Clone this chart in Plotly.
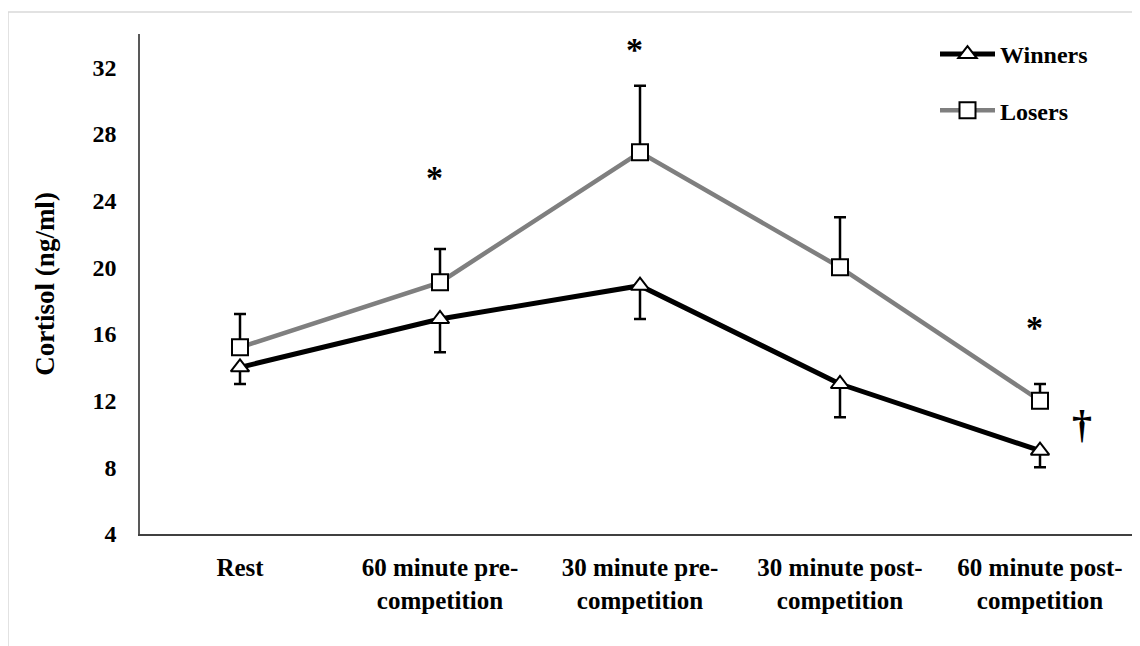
import plotly.graph_objects as go

categories = ["Rest", "60 minute pre-<br>competition", "30 minute pre-<br>competition",
              "30 minute post-<br>competition", "60 minute post-<br>competition"]
winners = [14.0, 16.9, 18.9, 13.0, 9.0]
winners_err = [1.0, 2.0, 2.0, 2.0, 1.0]
losers = [15.2, 19.1, 26.9, 20.0, 12.0]
losers_err = [2.0, 2.0, 4.0, 3.0, 1.0]
y_ticks = [4, 8, 12, 16, 20, 24, 28, 32]
# significance markers: (category index, value)
asterisks = [(1, 25.5), (2, 33.2), (4, 16.5)]
dagger = (4, 10.6)

FONT = "Liberation Serif, Times New Roman, serif"

fig = go.Figure()
fig.add_trace(go.Scatter(
    x=categories, y=winners, name="Winners", legendgroup="w",
    mode="lines+markers",
    line=dict(color="#000000", width=5),
    marker=dict(symbol="triangle-up", size=16, color="white",
                line=dict(color="#000000", width=2)),
    error_y=dict(type="data", symmetric=False, array=[0] * len(winners),
                 arrayminus=winners_err, color="#000000", thickness=2.5, width=6),
))
fig.add_trace(go.Scatter(
    x=categories, y=losers, name="Losers", legendgroup="l",
    mode="lines+markers",
    line=dict(color="#7f7f7f", width=4.5),
    marker=dict(symbol="square", size=16, color="white",
                line=dict(color="#000000", width=2)),
    error_y=dict(type="data", symmetric=False, array=losers_err,
                 arrayminus=[0] * len(losers), color="#000000", thickness=2.5, width=6),
))

annotations = []
for idx, val in asterisks:
    annotations.append(dict(x=categories[idx], y=val, xref="x", yref="y", text="*",
                            showarrow=False, xshift=-6, yshift=-2,
                            font=dict(family=FONT, size=34, color="#000000", weight="bold")))
annotations.append(dict(x=categories[dagger[0]], y=dagger[1], xref="x", yref="y", text="†",
                        showarrow=False, xshift=42,
                        font=dict(family=FONT, size=40, color="#000000", weight="bold")))

shapes = [
    dict(type="line", xref="paper", yref="paper", x0=-0.132, x1=1.0, y0=1.044, y1=1.044,
         line=dict(color="#d9d9d9", width=1.5)),
    dict(type="line", xref="paper", yref="paper", x0=-0.132, x1=-0.132, y0=1.044, y1=-0.23,
         line=dict(color="#d9d9d9", width=1.5)),
]

fig.update_layout(
    width=1132, height=638,
    margin=dict(l=132, r=0, t=26, b=112),
    paper_bgcolor="white", plot_bgcolor="white",
    font=dict(family=FONT, size=24, color="#000000", weight="bold"),
    showlegend=True,
    legend=dict(x=0.795, y=1.004, xanchor="left", yanchor="top", itemwidth=55,
                tracegroupgap=22, bgcolor="rgba(0,0,0,0)",
                font=dict(family=FONT, size=24, color="#000000", weight="bold")),
    xaxis=dict(range=[-0.5, 4.5], showline=True, linecolor="#404040", linewidth=2,
               showgrid=False, ticks="", ticklabelstandoff=10,
               tickfont=dict(family=FONT, size=25, color="#000000", weight="bold")),
    yaxis=dict(range=[4, 34], tickvals=y_ticks, showline=True, linecolor="#595959",
               linewidth=1.5, showgrid=False, zeroline=False, ticks="",
               ticklabelstandoff=17,
               tickfont=dict(family=FONT, size=24, color="#000000", weight="bold"),
               title=dict(text="Cortisol (ng/ml)", standoff=30,
                          font=dict(family=FONT, size=27, color="#000000", weight="bold"))),
    annotations=annotations,
    shapes=shapes,
)

fig.write_html("out.html")
